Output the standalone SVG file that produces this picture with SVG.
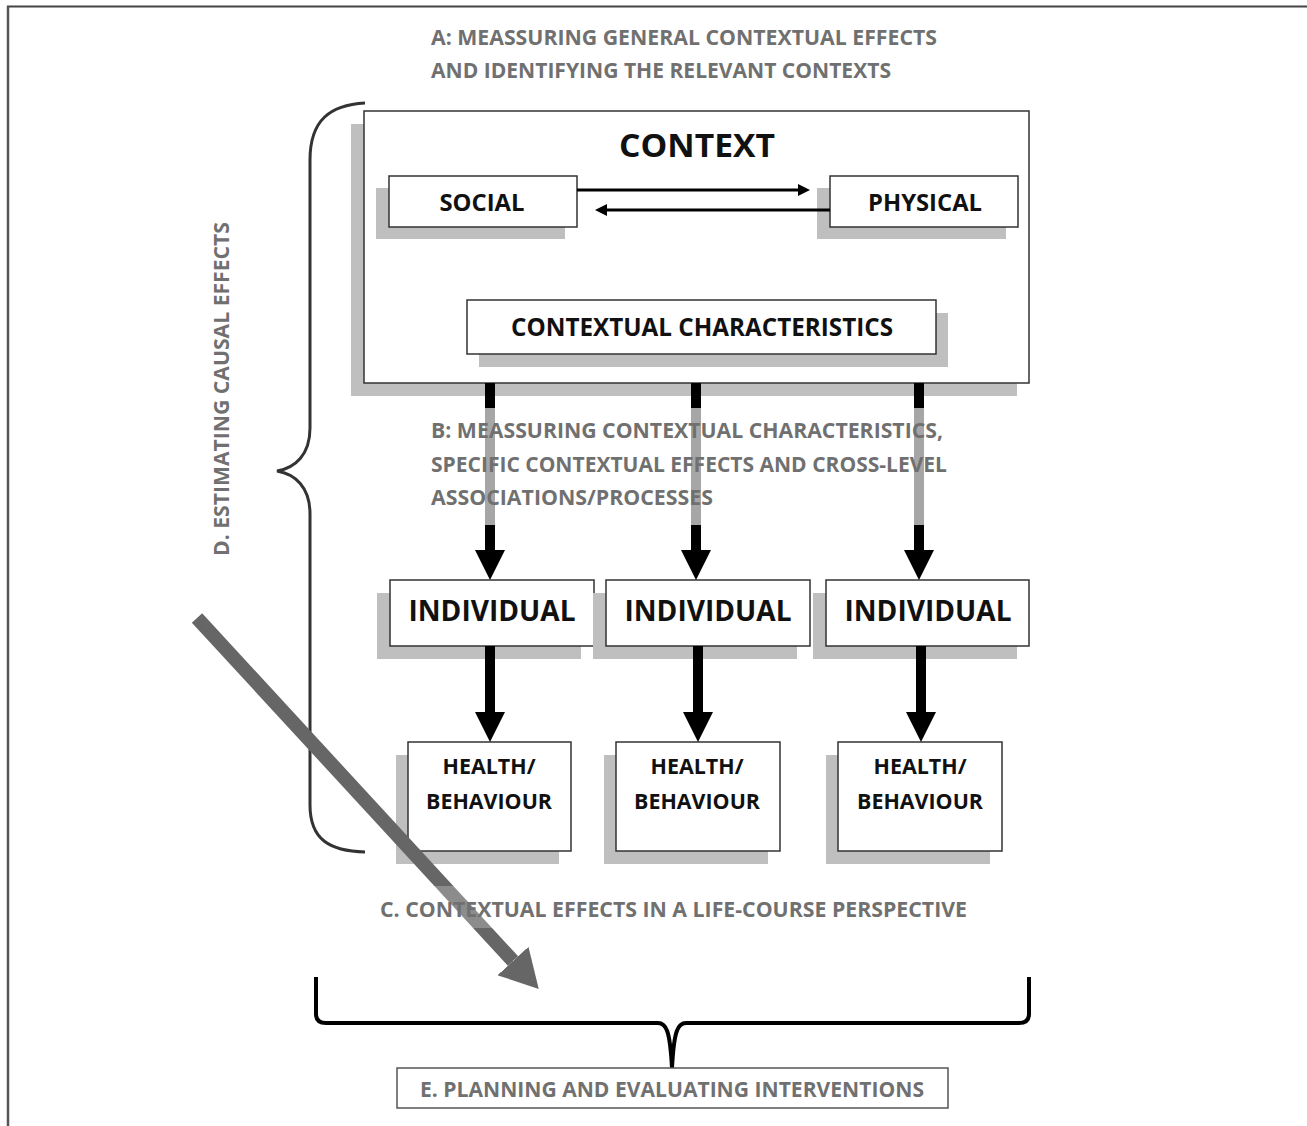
<svg xmlns="http://www.w3.org/2000/svg" width="1307" height="1126" viewBox="0 0 1307 1126">
<style>
text{font-family:"Open Sans","Liberation Sans",sans-serif;font-weight:bold}
.g{fill:#707070;font-size:21px}
.k{fill:#111}
.box{fill:#fff;stroke:#333;stroke-width:1.5}
.sh{fill:#bfbfbf}
.blk{stroke:#000;stroke-width:10;fill:none}
.thin{stroke:#000;stroke-width:3;fill:none}
</style>
<defs>
<marker id="big" markerUnits="userSpaceOnUse" viewBox="0 0 30 30" markerWidth="30" markerHeight="30" refX="0" refY="15" orient="auto">
<path d="M0,0 L30,15 L0,30 Z" fill="#000"/>
</marker>
<marker id="small" markerUnits="userSpaceOnUse" viewBox="0 0 12 12" markerWidth="12" markerHeight="12" refX="0" refY="6" orient="auto">
<path d="M0,0 L12,6 L0,12 Z" fill="#000"/>
</marker>
<marker id="diag" markerUnits="userSpaceOnUse" viewBox="0 0 38 42" markerWidth="38" markerHeight="42" refX="0" refY="21" orient="auto">
<path d="M0,0 L38,21 L0,42 Z" fill="#666"/>
</marker>
</defs>
<rect width="1307" height="1126" fill="#fff"/>
<g id="frame">
<line x1="7" y1="6.5" x2="1307" y2="6.5" stroke="#444" stroke-width="2"/>
<line x1="8" y1="6" x2="8" y2="1126" stroke="#555" stroke-width="2.5"/>
</g>
<g id="label-a">
<text class="g" x="431" y="45" textLength="506" lengthAdjust="spacingAndGlyphs">A: MEASSURING  GENERAL CONTEXTUAL EFFECTS</text>
<text class="g" x="431" y="78" textLength="460" lengthAdjust="spacingAndGlyphs">AND IDENTIFYING  THE RELEVANT CONTEXTS</text>
</g>
<g id="brace-d">
<path d="M365,103 C330,105 310,120 310,160 L310,428 C310,455 295,468 277,471 C295,474 310,487 310,514 L310,805 C310,840 330,851 365,852" fill="none" stroke="#333" stroke-width="3"/>
<text class="g" transform="translate(229,389) rotate(-90)" x="0" y="0" text-anchor="middle" textLength="334" lengthAdjust="spacingAndGlyphs">D. ESTIMATING CAUSAL EFFECTS</text>
</g>
<g id="context">
<rect class="sh" x="351" y="124" width="666" height="272"/>
<rect class="box" x="364" y="111" width="665" height="272"/>
<text class="k" x="697" y="157" font-size="33" text-anchor="middle" textLength="156" lengthAdjust="spacingAndGlyphs">CONTEXT</text>
</g>
<g id="social">
<rect class="sh" x="376" y="188" width="189" height="51"/>
<rect class="box" x="389" y="176" width="188" height="51"/>
<text class="k" x="482" y="211" font-size="24" text-anchor="middle" textLength="85" lengthAdjust="spacingAndGlyphs">SOCIAL</text>
</g>
<g id="physical">
<rect class="sh" x="817" y="188" width="189" height="51"/>
<rect class="box" x="830" y="176" width="188" height="51"/>
<text class="k" x="925" y="211" font-size="24" text-anchor="middle" textLength="114" lengthAdjust="spacingAndGlyphs">PHYSICAL</text>
</g>
<g id="characteristics">
<rect class="sh" x="479" y="313" width="469" height="54"/>
<rect class="box" x="467" y="300" width="469" height="54"/>
<text class="k" x="702" y="336" font-size="25" text-anchor="middle" textLength="382" lengthAdjust="spacingAndGlyphs">CONTEXTUAL  CHARACTERISTICS</text>
</g>
<g id="individual-1">
<rect class="sh" x="377" y="593" width="204" height="66"/>
<rect class="box" x="390" y="580" width="204" height="66"/>
<text class="k" x="492" y="621" font-size="28" text-anchor="middle" textLength="167" lengthAdjust="spacingAndGlyphs">INDIVIDUAL</text>
</g>
<g id="individual-2">
<rect class="sh" x="593" y="593" width="204" height="66"/>
<rect class="box" x="606" y="580" width="204" height="66"/>
<text class="k" x="708" y="621" font-size="28" text-anchor="middle" textLength="167" lengthAdjust="spacingAndGlyphs">INDIVIDUAL</text>
</g>
<g id="individual-3">
<rect class="sh" x="813" y="593" width="204" height="66"/>
<rect class="box" x="826" y="580" width="203" height="66"/>
<text class="k" x="928" y="621" font-size="28" text-anchor="middle" textLength="167" lengthAdjust="spacingAndGlyphs">INDIVIDUAL</text>
</g>
<g id="health-1">
<rect class="sh" x="396" y="755" width="163" height="109"/>
<rect class="box" x="408" y="742" width="163" height="109"/>
<text class="k" x="489" y="774" font-size="21" text-anchor="middle" textLength="93" lengthAdjust="spacingAndGlyphs">HEALTH/</text>
<text class="k" x="489" y="809" font-size="22" text-anchor="middle" textLength="126" lengthAdjust="spacingAndGlyphs">BEHAVIOUR</text>
</g>
<g id="health-2">
<rect class="sh" x="604" y="755" width="164" height="109"/>
<rect class="box" x="616" y="742" width="164" height="109"/>
<text class="k" x="697" y="774" font-size="21" text-anchor="middle" textLength="93" lengthAdjust="spacingAndGlyphs">HEALTH/</text>
<text class="k" x="697" y="809" font-size="22" text-anchor="middle" textLength="126" lengthAdjust="spacingAndGlyphs">BEHAVIOUR</text>
</g>
<g id="health-3">
<rect class="sh" x="826" y="755" width="164" height="109"/>
<rect class="box" x="838" y="742" width="164" height="109"/>
<text class="k" x="920" y="774" font-size="21" text-anchor="middle" textLength="93" lengthAdjust="spacingAndGlyphs">HEALTH/</text>
<text class="k" x="920" y="809" font-size="22" text-anchor="middle" textLength="126" lengthAdjust="spacingAndGlyphs">BEHAVIOUR</text>
</g>
<g id="connectors">
<line class="thin" x1="577" y1="190" x2="798" y2="190" marker-end="url(#small)"/>
<line class="thin" x1="830" y1="210" x2="607" y2="210" marker-end="url(#small)"/>
<line class="blk" x1="490" y1="383" x2="490" y2="550" marker-end="url(#big)"/>
<line class="blk" x1="696" y1="383" x2="696" y2="550" marker-end="url(#big)"/>
<line class="blk" x1="919" y1="383" x2="919" y2="550" marker-end="url(#big)"/>
<line class="blk" x1="490" y1="646" x2="490" y2="712" marker-end="url(#big)"/>
<line class="blk" x1="698" y1="646" x2="698" y2="712" marker-end="url(#big)"/>
<line class="blk" x1="921" y1="646" x2="921" y2="712" marker-end="url(#big)"/>
<line x1="197" y1="618" x2="513" y2="961" stroke="#666" stroke-width="14" marker-end="url(#diag)"/>
</g>
<g id="label-b">
<rect x="425" y="408" width="530" height="117" fill="#fff" fill-opacity="0.65"/>
<text class="g" x="431" y="438" textLength="512" lengthAdjust="spacingAndGlyphs">B: MEASSURING  CONTEXTUAL CHARACTERISTICS,</text>
<text class="g" x="431" y="472" textLength="516" lengthAdjust="spacingAndGlyphs">SPECIFIC CONTEXTUAL EFFECTS AND CROSS-LEVEL</text>
<text class="g" x="431" y="505" textLength="282" lengthAdjust="spacingAndGlyphs">ASSOCIATIONS/PROCESSES</text>
</g>
<g id="label-c">
<rect x="372" y="886" width="602" height="42" fill="#fff" fill-opacity="0.25"/>
<text class="g" x="380" y="917" textLength="587" lengthAdjust="spacingAndGlyphs">C. CONTEXTUAL EFFECTS IN A LIFE-COURSE PERSPECTIVE</text>
</g>
<g id="brace-e">
<path d="M316,977 L316,1014 C316,1020 319,1023 326,1023 L658,1023 C666,1023 670,1030 672,1068 C674,1030 678,1023 686,1023 L1019,1023 C1026,1023 1029,1020 1029,1014 L1029,977" fill="none" stroke="#000" stroke-width="4"/>
</g>
<g id="interventions">
<rect x="397" y="1068" width="551" height="40" fill="#fff" stroke="#555" stroke-width="1.5"/>
<text class="g" x="672" y="1097" text-anchor="middle" textLength="504" lengthAdjust="spacingAndGlyphs">E. PLANNING AND EVALUATING INTERVENTIONS</text>
</g>
</svg>
